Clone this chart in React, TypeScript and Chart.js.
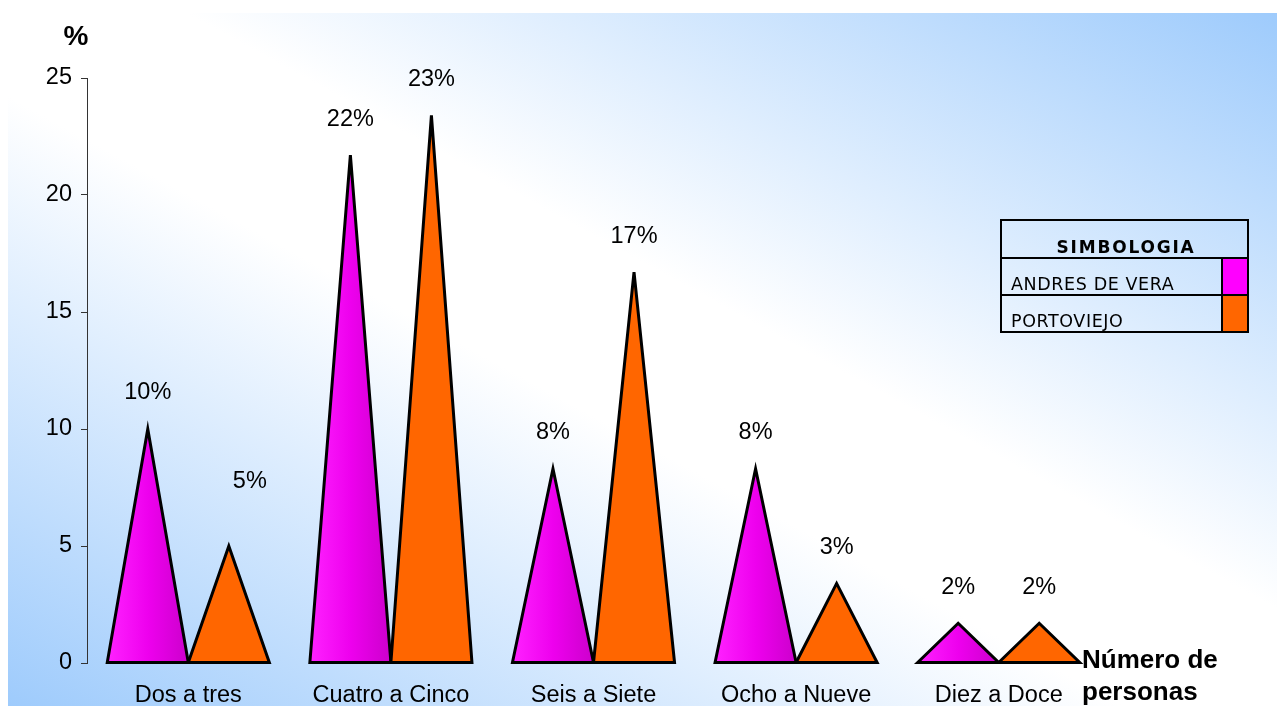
import React, { useEffect, useRef } from "react";
import { Chart, registerables } from "chart.js";

Chart.register(...registerables);

// ---- data ----
const categories = ["Dos a tres", "Cuatro a Cinco", "Seis a Siete", "Ocho a Nueve", "Diez a Doce"];
const seriesNames = ["ANDRES DE VERA", "PORTOVIEJO"];
const andresDeVera = [10.0, 21.7, 8.3, 8.3, 1.7];
const portoviejo = [5.0, 23.4, 16.7, 3.4, 1.7];
const andresLabels = ["10%", "22%", "8%", "8%", "2%"];
const portoviejoLabels = ["5%", "23%", "17%", "3%", "2%"];
const yTickValues = [0, 5, 10, 15, 20, 25];
const yTitle = "%";
const xTitle = ["Número de", "personas"];
const legendTitle = "SIMBOLOGIA";

// ---- styles ----
const W = 1277;
const H = 706;
const MAGENTA = "#ff00ff";
const ORANGE = "#ff6600";
const BLUE = "#9ecbfc";
const FONT = "'Liberation Sans', Arial, sans-serif";
const LABEL_NUDGE: Record<string, [number, number]> = { "1-0": [21, -28] };

const backgroundPlugin = {
  id: "bgGradient",
  beforeDraw(chart: any) {
    const ctx = chart.ctx as CanvasRenderingContext2D;
    const x0 = 8, y0 = 13, x1 = W, y1 = H;
    const cx = (x0 + x1) / 2, cy = (y0 + y1) / 2;
    const w = x1 - x0, h = y1 - y0;
    const len = Math.hypot(w, h);
    const dx = h / len, dy = -w / len;
    const proj = (x1 - cx) * dx + (y0 - cy) * dy;
    const g = ctx.createLinearGradient(cx - proj * dx, cy - proj * dy, cx + proj * dx, cy + proj * dy);
    g.addColorStop(0, BLUE);
    g.addColorStop(0.44, "#ffffff");
    g.addColorStop(0.57, "#ffffff");
    g.addColorStop(1, BLUE);
    ctx.save();
    ctx.fillStyle = g;
    ctx.fillRect(x0, y0, w, h);
    ctx.restore();
  },
};

const trianglePlugin = {
  id: "triangles",
  afterDatasetsDraw(chart: any) {
    const ctx = chart.ctx as CanvasRenderingContext2D;
    const labelSets = [andresLabels, portoviejoLabels];
    chart.data.datasets.forEach((_ds: any, di: number) => {
      const meta = chart.getDatasetMeta(di);
      meta.data.forEach((el: any) => {
        const { x, y, base, width } = el.getProps(["x", "y", "base", "width"], true);
        const l = x - width / 2;
        const r = x + width / 2;
        ctx.save();
        ctx.beginPath();
        ctx.moveTo(l, base);
        ctx.lineTo(x, y);
        ctx.lineTo(r, base);
        ctx.closePath();
        if (di === 0) {
          const g = ctx.createLinearGradient(l, 0, r, 0);
          g.addColorStop(0, "#ff22ff");
          g.addColorStop(0.5, "#ee00ee");
          g.addColorStop(1, "#cc00cc");
          ctx.fillStyle = g;
        } else {
          ctx.fillStyle = ORANGE;
        }
        ctx.fill();
        ctx.lineWidth = 3;
        ctx.strokeStyle = "#000";
        ctx.lineJoin = "miter";
        ctx.miterLimit = 6;
        ctx.stroke();
        ctx.restore();
      });
    });
    // value labels
    chart.data.datasets.forEach((_ds: any, di: number) => {
      const meta = chart.getDatasetMeta(di);
      meta.data.forEach((el: any, i: number) => {
        const { x, y } = el.getProps(["x", "y"], true);
        const nudge = LABEL_NUDGE[`${di}-${i}`] || [0, 0];
        ctx.save();
        ctx.font = `23.5px ${FONT}`;
        ctx.fillStyle = "#000";
        ctx.textAlign = "center";
        ctx.textBaseline = "middle";
        ctx.fillText(labelSets[di][i], x + nudge[0], y - 36 + nudge[1]);
        ctx.restore();
      });
    });
  },
};

const decorPlugin = {
  id: "decor",
  afterDraw(chart: any) {
    const ctx = chart.ctx as CanvasRenderingContext2D;
    ctx.save();
    // axis titles
    ctx.fillStyle = "#000";
    ctx.font = `bold 28px ${FONT}`;
    ctx.textAlign = "center";
    ctx.textBaseline = "middle";
    ctx.fillText(yTitle, 76, 37);
    ctx.font = `bold 26px ${FONT}`;
    ctx.textAlign = "left";
    ctx.fillText(xTitle[0], 1082, 661);
    ctx.fillText(xTitle[1], 1082, 693);

    // legend box
    const lx = 1001, ly = 220, lr = 1248, lb = 332;
    const r1 = 258, r2 = 295, sx = 1222;
    ctx.fillStyle = MAGENTA;
    ctx.fillRect(sx, r1, lr - sx, r2 - r1);
    ctx.fillStyle = ORANGE;
    ctx.fillRect(sx, r2, lr - sx, lb - r2);
    ctx.strokeStyle = "#000";
    ctx.lineWidth = 2;
    ctx.strokeRect(lx, ly, lr - lx, lb - ly);
    ctx.beginPath();
    ctx.moveTo(lx, r1); ctx.lineTo(lr, r1);
    ctx.moveTo(lx, r2); ctx.lineTo(lr, r2);
    ctx.moveTo(sx, r1); ctx.lineTo(sx, lb);
    ctx.stroke();

    ctx.fillStyle = "#000";
    ctx.textBaseline = "alphabetic";
    ctx.textAlign = "center";
    ctx.font = `bold 17px 'DejaVu Sans', Verdana, sans-serif`;
    (ctx as any).letterSpacing = "1.8px";
    ctx.fillText(legendTitle, 1126, 253);
    ctx.textAlign = "left";
    ctx.font = `17.5px 'DejaVu Sans', Verdana, sans-serif`;
    (ctx as any).letterSpacing = "0.6px";
    ctx.fillText(seriesNames[0], 1011, 290);
    ctx.fillText(seriesNames[1], 1011, 327);
    (ctx as any).letterSpacing = "0px";
    ctx.restore();
  },
};

export default function App() {
  const canvasRef = useRef<HTMLCanvasElement | null>(null);

  useEffect(() => {
    const canvas = canvasRef.current;
    if (!canvas) return;
    const chart = new Chart(canvas, {
      type: "bar",
      data: {
        labels: categories,
        datasets: [
          { label: seriesNames[0], data: andresDeVera, backgroundColor: "rgba(0,0,0,0)", borderWidth: 0 },
          { label: seriesNames[1], data: portoviejo, backgroundColor: "rgba(0,0,0,0)", borderWidth: 0 },
        ],
      },
      options: {
        animation: false,
        responsive: false,
        devicePixelRatio: 1,
        layout: { padding: { top: 78, right: 177, left: 0, bottom: 0 } },
        datasets: { bar: { categoryPercentage: 0.8, barPercentage: 1.0 } },
        plugins: {
          legend: { display: false },
          tooltip: { enabled: false },
          title: { display: false },
        },
        scales: {
          x: {
            grid: { display: false },
            border: { display: false },
            ticks: { color: "#000", font: { family: FONT, size: 23.5 }, padding: 10, maxRotation: 0, autoSkip: false },
            afterFit: (scale: any) => { scale.height = 43; },
          },
          y: {
            min: 0,
            max: 25,
            afterBuildTicks: (scale: any) => { scale.ticks = yTickValues.map((v) => ({ value: v })); },
            grid: { display: true, drawOnChartArea: false, drawTicks: true, tickLength: 6, color: "#333", lineWidth: 1 },
            border: { display: true, color: "#333", width: 1 },
            ticks: { color: "#000", font: { family: FONT, size: 23.5 }, padding: 9 },
            afterFit: (scale: any) => { scale.width = 87; },
          },
        },
      },
      plugins: [backgroundPlugin, trianglePlugin, decorPlugin],
    });
    return () => chart.destroy();
  }, []);

  return (
    <div style={{ position: "fixed", left: 0, top: 0, width: W, height: H, background: "#fff" }}>
      <canvas ref={canvasRef} width={W} height={H} style={{ width: W, height: H, display: "block" }} />
    </div>
  );
}
